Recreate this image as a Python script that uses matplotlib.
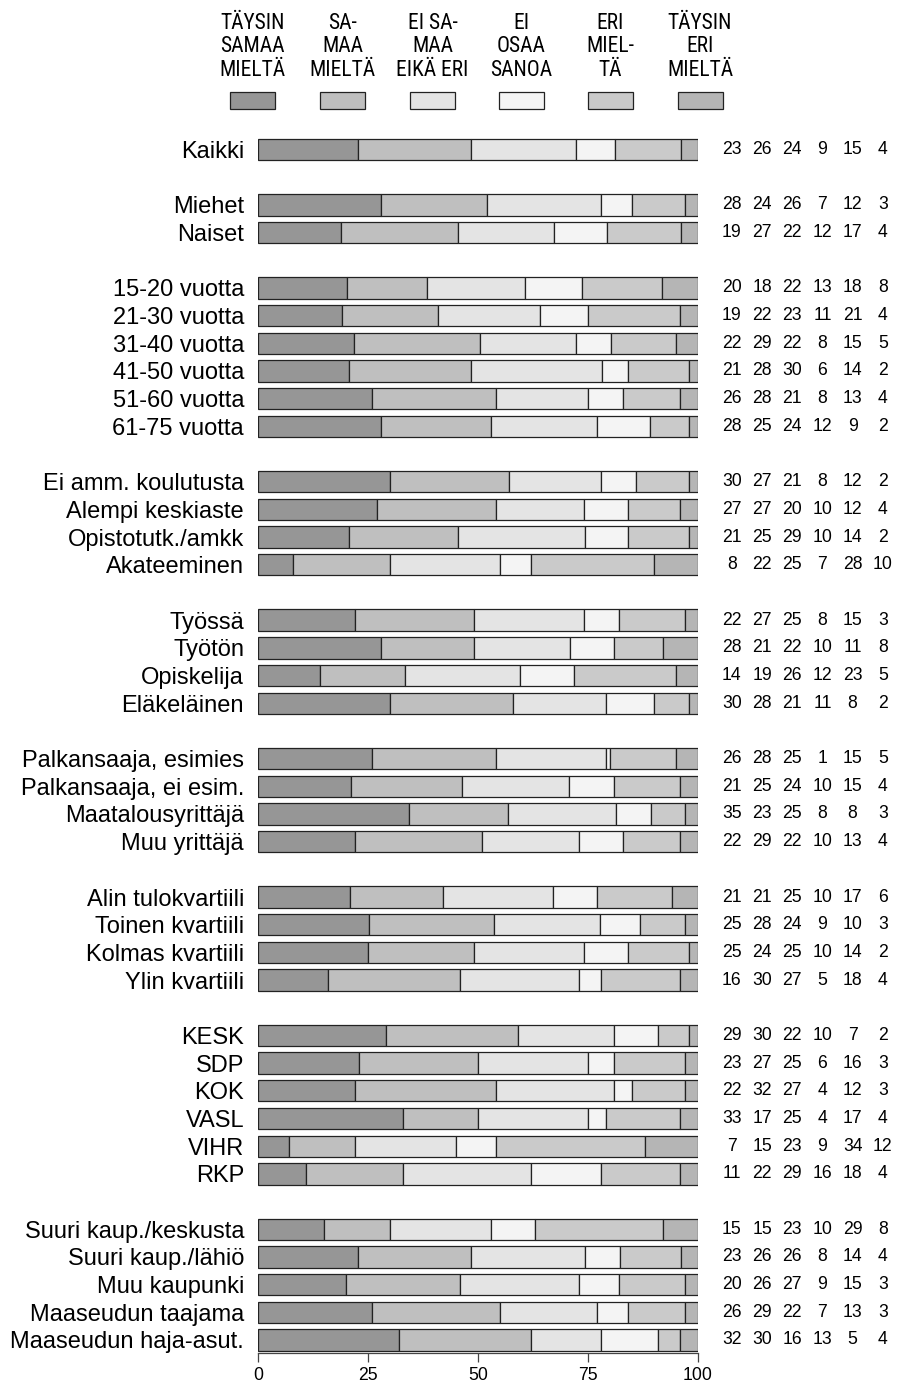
import numpy as np
import matplotlib
matplotlib.use("Agg")
import matplotlib.pyplot as plt
from matplotlib import font_manager
from matplotlib.patches import Rectangle

plt.rcParams['font.family'] = ['Liberation Sans', 'DejaVu Sans']

# legend categories (answer options)
categories = ["TÄYSIN\nSAMAA\nMIELTÄ", "SA-\nMAA\nMIELTÄ", "EI SA-\nMAA\nEIKÄ ERI",
              "EI\nOSAA\nSANOA", "ERI\nMIEL-\nTÄ", "TÄYSIN\nERI\nMIELTÄ"]
colors = ["#969696", "#bfbfbf", "#e4e4e4", "#f4f4f4", "#cacaca", "#b5b5b5"]

# rows, grouped (blank row between groups)
group_sizes = [1, 2, 6, 4, 4, 4, 4, 6, 5]
labels = [
    "Kaikki",
    "Miehet", "Naiset",
    "15-20 vuotta", "21-30 vuotta", "31-40 vuotta", "41-50 vuotta", "51-60 vuotta", "61-75 vuotta",
    "Ei amm. koulutusta", "Alempi keskiaste", "Opistotutk./amkk", "Akateeminen",
    "Työssä", "Työtön", "Opiskelija", "Eläkeläinen",
    "Palkansaaja, esimies", "Palkansaaja, ei esim.", "Maatalousyrittäjä", "Muu yrittäjä",
    "Alin tulokvartiili", "Toinen kvartiili", "Kolmas kvartiili", "Ylin kvartiili",
    "KESK", "SDP", "KOK", "VASL", "VIHR", "RKP",
    "Suuri kaup./keskusta", "Suuri kaup./lähiö", "Muu kaupunki", "Maaseudun taajama",
    "Maaseudun haja-asut.",
]
values = [
    [23, 26, 24, 9, 15, 4],
    [28, 24, 26, 7, 12, 3],
    [19, 27, 22, 12, 17, 4],
    [20, 18, 22, 13, 18, 8],
    [19, 22, 23, 11, 21, 4],
    [22, 29, 22, 8, 15, 5],
    [21, 28, 30, 6, 14, 2],
    [26, 28, 21, 8, 13, 4],
    [28, 25, 24, 12, 9, 2],
    [30, 27, 21, 8, 12, 2],
    [27, 27, 20, 10, 12, 4],
    [21, 25, 29, 10, 14, 2],
    [8, 22, 25, 7, 28, 10],
    [22, 27, 25, 8, 15, 3],
    [28, 21, 22, 10, 11, 8],
    [14, 19, 26, 12, 23, 5],
    [30, 28, 21, 11, 8, 2],
    [26, 28, 25, 1, 15, 5],
    [21, 25, 24, 10, 15, 4],
    [35, 23, 25, 8, 8, 3],
    [22, 29, 22, 10, 13, 4],
    [21, 21, 25, 10, 17, 6],
    [25, 28, 24, 9, 10, 3],
    [25, 24, 25, 10, 14, 2],
    [16, 30, 27, 5, 18, 4],
    [29, 30, 22, 10, 7, 2],
    [23, 27, 25, 6, 16, 3],
    [22, 32, 27, 4, 12, 3],
    [33, 17, 25, 4, 17, 4],
    [7, 15, 23, 9, 34, 12],
    [11, 22, 29, 16, 18, 4],
    [15, 15, 23, 10, 29, 8],
    [23, 26, 26, 8, 14, 4],
    [20, 26, 27, 9, 15, 3],
    [26, 29, 22, 7, 13, 3],
    [32, 30, 16, 13, 5, 4],
]
xticks = [0, 25, 50, 75, 100]

# narrow font for the legend header if one is installed
names = {f.name for f in font_manager.fontManager.ttflist}
head_font, head_size, head_ls = ["Liberation Sans"], 12.5, 1.38
for cand in ["Liberation Sans Narrow", "Arial Narrow", "Roboto Condensed",
             "Open Sans Condensed", "Noto Sans Condensed"]:
    if cand in names:
        head_font, head_size, head_ls = [cand], 15.5, 1.16
        break

W, H = 897, 1383
fig = plt.figure(figsize=(W / 100, H / 100), dpi=100)

# row positions with a blank slot between groups
ypos = []
slot = 0
for g in group_sizes:
    for i in range(g):
        ypos.append(slot)
        slot += 1
    slot += 1
ypos = np.array(ypos)
nslots = ypos[-1]

px_slot = 27.69
top_px = 149.5 - 0.5 * px_slot
bot_px = 1353
ax = fig.add_axes([258 / W, (H - bot_px) / H, 440 / W, (bot_px - top_px) / H])

vals = np.array(values, dtype=float)
pct = vals / vals.sum(axis=1, keepdims=True) * 100
left = np.zeros(len(labels))
for j in range(len(categories)):
    ax.barh(ypos, pct[:, j], left=left, height=0.77, color=colors[j],
            edgecolor="#222222", linewidth=0.9)
    left += pct[:, j]

# numbers on the right
for r, y in enumerate(ypos):
    for j in range(len(categories)):
        ax.text(107.7 + 6.86 * j, y, str(values[r][j]), ha="center", va="center",
                fontsize=12.7, clip_on=False)

ax.set_xlim(0, 100)
ax.set_ylim(nslots + 0.47, -0.5)
ax.set_yticks(ypos)
ax.set_yticklabels(labels, fontsize=17)
ax.tick_params(axis="y", length=0, pad=10)
ax.set_xticks(xticks)
ax.set_xticklabels([str(t) for t in xticks], fontsize=12.7)
ax.tick_params(axis="x", direction="out", length=6.5, width=0.9, color="#444444", pad=3.5)
for s in ["left", "right", "top"]:
    ax.spines[s].set_visible(False)
ax.spines["bottom"].set_bounds(0, 100)
ax.spines["bottom"].set_color("#444444")
ax.spines["bottom"].set_linewidth(0.9)

# legend header
leg_x = [252.5, 342.5, 432.5, 521.5, 610.5, 700]
for j, cat in enumerate(categories):
    fig.text(leg_x[j] / W, 1 - 47 / H, cat, ha="center", va="center",
             family=head_font, fontsize=head_size, linespacing=head_ls)
    fig.patches.append(Rectangle(((leg_x[j] - 22.5) / W, 1 - 109 / H), 45 / W, 17 / H,
                                 transform=fig.transFigure, facecolor=colors[j],
                                 edgecolor="#222222", linewidth=0.9))

fig.savefig("out.png", dpi=100)
